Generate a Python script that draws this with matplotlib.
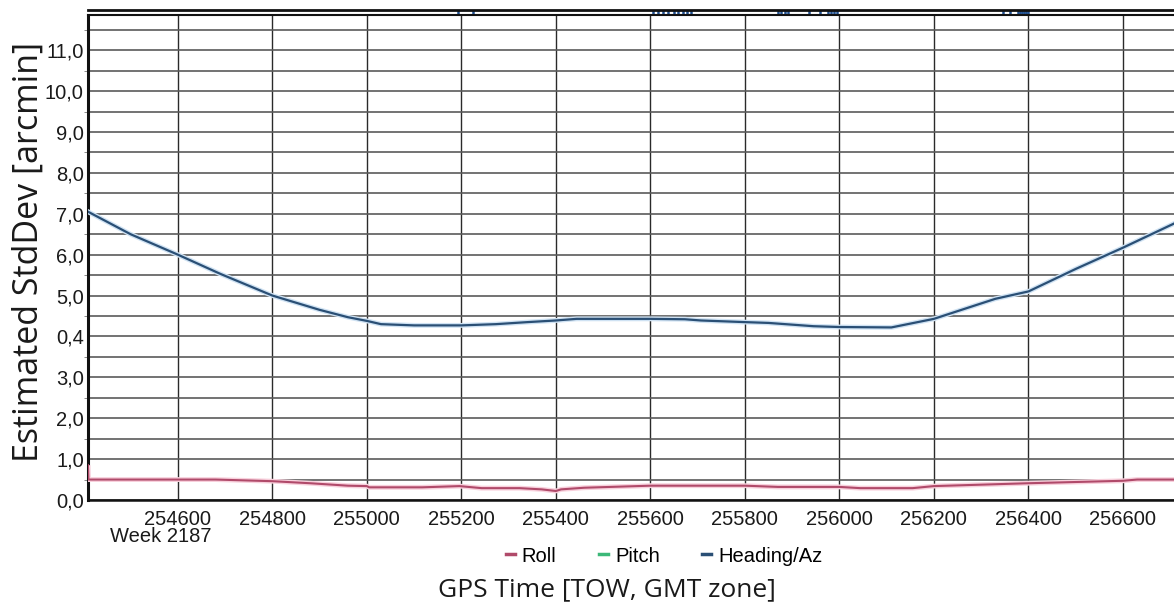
import matplotlib
matplotlib.use("Agg")
import matplotlib.pyplot as plt
from matplotlib.ticker import FixedLocator, FixedFormatter

# ---------------- data ----------------
heading_tow = [254410, 254500, 254600, 254690, 254800, 254900, 254960, 255000,
               255030, 255100, 255200, 255273, 255340, 255400, 255444, 255600,
               255673, 255707, 255800, 255850, 255945, 256000, 256110, 256200,
               256330, 256400, 256500, 256600, 256708]
heading = [7.05, 6.5, 6.0, 5.53, 5.0, 4.65, 4.47, 4.38,
           4.3, 4.27, 4.27, 4.3, 4.35, 4.39, 4.43, 4.43,
           4.42, 4.39, 4.35, 4.33, 4.25, 4.23, 4.22, 4.43,
           4.92, 5.1, 5.65, 6.17, 6.76]

roll_tow = [254410, 254411, 254680, 254770, 254800, 254880, 254960, 255000,
            255005, 255117, 255196, 255243, 255323, 255370, 255400, 255411,
            255460, 255600, 255800, 255870, 256000, 256044, 256155, 256200,
            256400, 256600, 256630, 256708]
roll = [0.85, 0.5, 0.5, 0.47, 0.46, 0.41, 0.35, 0.34,
        0.31, 0.31, 0.34, 0.29, 0.29, 0.26, 0.22, 0.26,
        0.30, 0.35, 0.35, 0.32, 0.32, 0.29, 0.29, 0.34,
        0.41, 0.47, 0.5, 0.5]

pitch_tow = [254410, 254680, 254770, 254800, 254880, 254960, 255000, 255117,
             255196, 255243, 255323, 255400, 255460, 255600, 255800, 256000,
             256155, 256200, 256400, 256600, 256708]
pitch = [0.5, 0.5, 0.47, 0.46, 0.41, 0.35, 0.34, 0.31,
         0.34, 0.29, 0.29, 0.23, 0.30, 0.35, 0.35, 0.32,
         0.29, 0.34, 0.41, 0.47, 0.5]

event_tow = [255193, 255225,
             255606, 255617, 255627, 255638, 255649, 255659, 255670, 255678, 255686,
             255870, 255876, 255885, 255891,
             255936, 255959, 255976, 255982, 255989, 255995,
             256346, 256361, 256378, 256383, 256387, 256391, 256395, 256400]

x_ticks = [254600, 254800, 255000, 255200, 255400, 255600, 255800, 256000,
           256200, 256400, 256600]
y_ticks = [0, 1, 2, 3, 4, 5, 6, 7, 8, 9, 10, 11]
y_tick_labels = ["0,0", "1,0", "2,0", "3,0", "0,4", "5,0", "6,0", "7,0",
                 "8,0", "9,0", "10,0", "11,0"]
y_minor = [0.5, 1.5, 2.5, 3.5, 4.5, 5.5, 6.5, 7.5, 8.5, 9.5, 10.5, 11.5]

# ---------------- style ----------------
W, H = 1174, 608
tick_font = ["Liberation Sans", "DejaVu Sans"]
label_font = ["Open Sans", "DejaVu Sans"]
tick_size = 14.5

fig = plt.figure(figsize=(W / 100, H / 100), dpi=100)
fig.patch.set_facecolor("white")

ax_l, ax_r, ax_b, ax_t = 88, 1174, 500, 15
ax = fig.add_axes([ax_l / W, 1 - ax_b / H, (ax_r - ax_l) / W, (ax_b - ax_t) / H])
strip = fig.add_axes([ax_l / W, 1 - ax_t / H, (ax_r - ax_l) / W, 5 / H])

xmin, xmax = 254410, 256708
ax.set_xlim(xmin, xmax)
ax.set_ylim(0, 11.86)

# grid
ax.xaxis.set_major_locator(FixedLocator(x_ticks))
ax.yaxis.set_major_locator(FixedLocator(y_ticks))
ax.yaxis.set_major_formatter(FixedFormatter(y_tick_labels))
ax.yaxis.set_minor_locator(FixedLocator(y_minor))
ax.grid(True, which="major", axis="x", color="#2a2a2a", lw=1.0)
ax.grid(True, which="major", axis="y", color="#5a5a5a", lw=1.2)
ax.grid(True, which="minor", axis="y", color="#5a5a5a", lw=1.2)
ax.set_axisbelow(True)

# lines
pitch_line, = ax.plot(pitch_tow, pitch, color="#3cb878", lw=1.4, zorder=3, label="Pitch")
ax.plot(roll_tow, roll, color="#f8d0dc", lw=3.5, zorder=3.5, solid_capstyle="butt")
roll_line, = ax.plot(roll_tow, roll, color="#b04a6a", lw=1.5, zorder=4, label="Roll")
ax.plot(heading_tow, heading, color="#cfe2f3", lw=3.5, zorder=4.5)
head_line, = ax.plot(heading_tow, heading, color="#2a4f75", lw=1.6, zorder=5, label="Heading/Az")

# spines
for s in ["top", "right"]:
    ax.spines[s].set_visible(False)
ax.spines["left"].set_color("#111111")
ax.spines["left"].set_linewidth(2.2)
ax.spines["bottom"].set_color("#111111")
ax.spines["bottom"].set_linewidth(1.8)

ax.tick_params(axis="both", which="major", length=0)
ax.tick_params(axis="y", which="minor", length=3, color="#777777", direction="out")
ax.tick_params(axis="x", which="major", pad=7)
ax.tick_params(axis="y", which="major", pad=3)
for lbl in ax.get_xticklabels() + ax.get_yticklabels():
    lbl.set_fontfamily(tick_font)
    lbl.set_fontsize(tick_size)
    lbl.set_color("#1a1a1a")

# event strip
strip.set_xlim(xmin, xmax)
strip.set_ylim(0, 1)
strip.vlines(event_tow, 0.0, 1.0, color="#1f4f8f", lw=1.8)
strip.set_xticks([])
strip.set_yticks([])
for s in ["left", "right"]:
    strip.spines[s].set_visible(False)
strip.spines["top"].set_linewidth(2.0)
strip.spines["top"].set_color("#111111")
strip.spines["bottom"].set_linewidth(1.5)
strip.spines["bottom"].set_color("#111111")

# labels
fig.text(29 / W, 1 - 252 / H, "Estimated StdDev [arcmin]", rotation=90,
         ha="center", va="center", fontsize=24.5, family=label_font, color="#1a1a1a")
fig.text(607 / W, 1 - 590 / H, "GPS Time [TOW, GMT zone]", ha="center", va="center",
         fontsize=19, family=label_font, color="#1a1a1a")
fig.text(161 / W, 1 - 537 / H, "Week 2187", ha="center", va="center",
         fontsize=tick_size, family=tick_font, color="#1a1a1a")

leg = fig.legend(handles=[roll_line, pitch_line, head_line], loc="center",
                 bbox_to_anchor=(664 / W, 1 - 556 / H), ncol=3, frameon=False,
                 handlelength=0.45, handletextpad=0.35, columnspacing=2.1,
                 prop={"family": tick_font, "size": tick_size})
for h in leg.legend_handles:
    h.set_linewidth(2.5)

fig.savefig("out.png", dpi=100, facecolor="white")
